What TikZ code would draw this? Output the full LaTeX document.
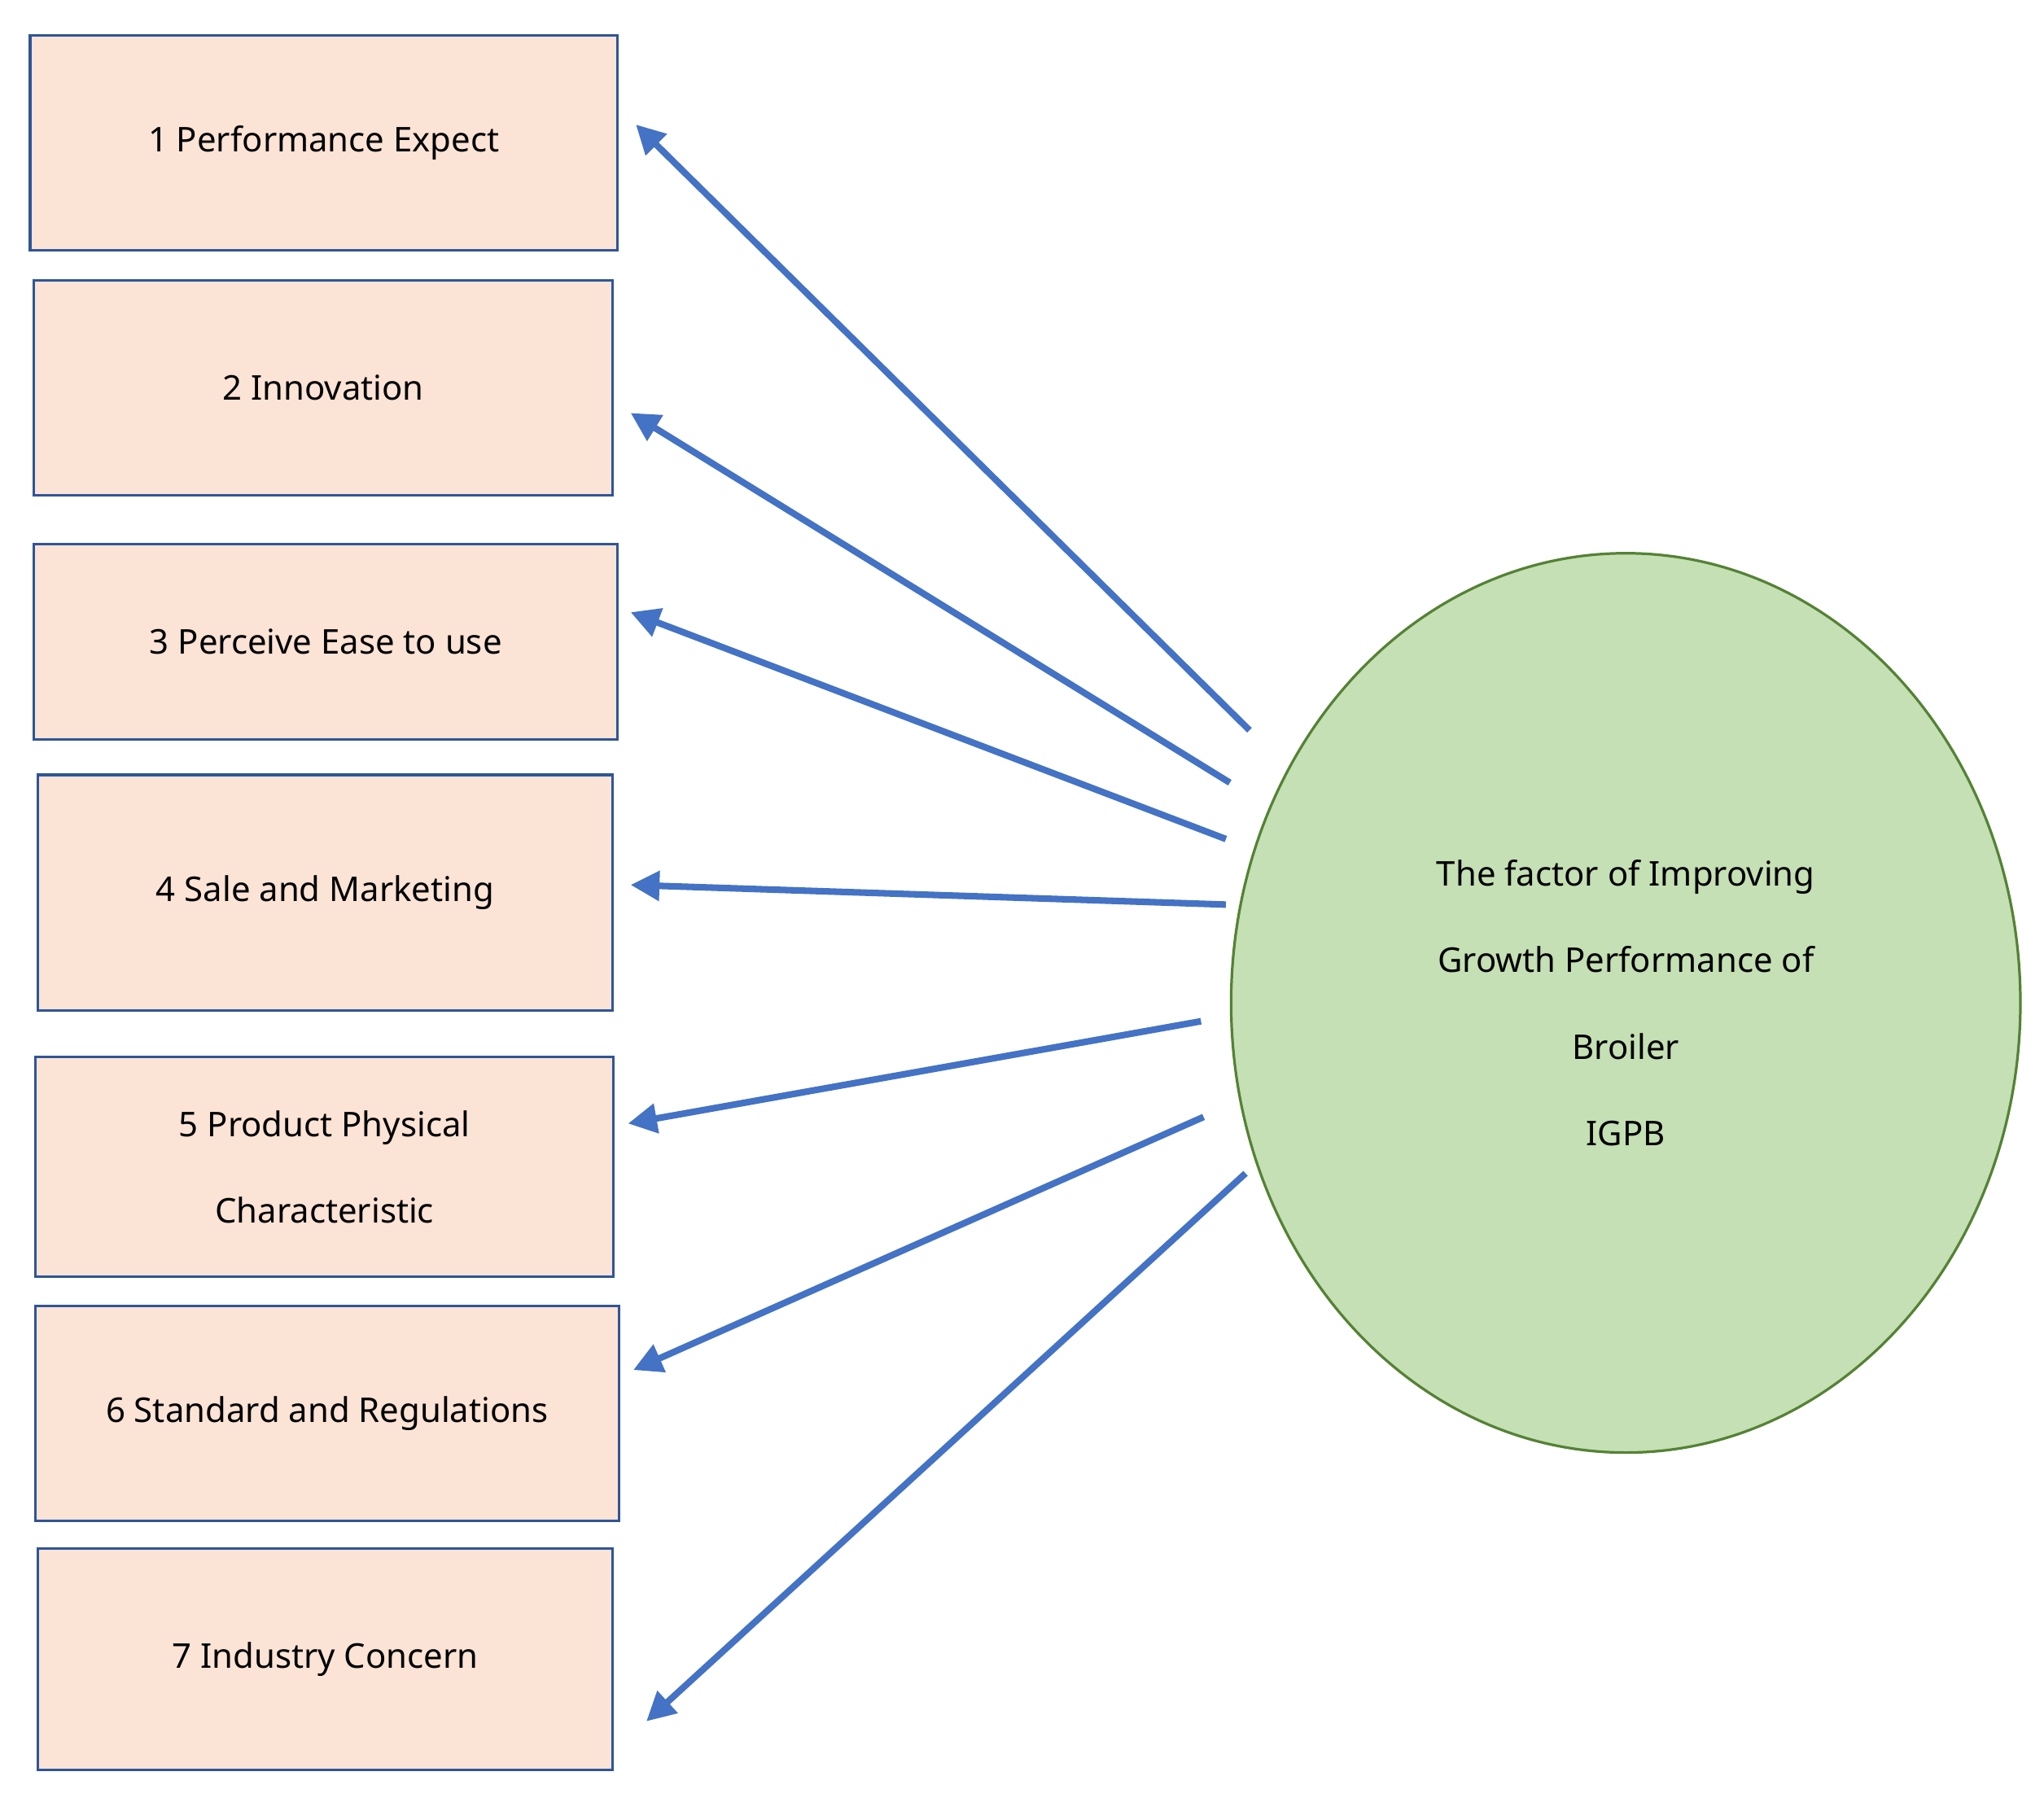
\documentclass[tikz,border=0pt]{standalone}
\usepackage{fontspec}
\setmainfont{Noto Sans}
\usetikzlibrary{arrows.meta,shapes.geometric}
\definecolor{boxfill}{HTML}{FBE3D6}
\definecolor{boxline}{HTML}{2F5597}
\definecolor{ellfill}{HTML}{C5E0B4}
\definecolor{ellline}{HTML}{548235}
\definecolor{arr}{HTML}{4472C4}
\begin{document}
\begin{tikzpicture}[x=1pt,y=-1pt,
  box/.style={draw=boxline,line width=2pt,fill=boxfill,anchor=north west,inner sep=0pt,align=center,font=\fontsize{26}{66}\selectfont},
  link/.style={draw=arr,line width=5pt,-{Triangle[length=22pt,width=22pt]}}]
\useasboundingbox (0,0) rectangle (1559,1371);
\node[box,minimum width=448pt,minimum height=164pt] (b1) at (22,26) {1 Performance Expect};
\node[box,minimum width=441pt,minimum height=164pt] (b2) at (25,213) {2 Innovation};
\node[box,minimum width=445pt,minimum height=149pt] (b3) at (25,414) {3 Perceive Ease to use};
\node[box,minimum width=438pt,minimum height=180pt] (b4) at (28,590) {4 Sale and Marketing};
\node[box,minimum width=441pt,minimum height=168pt] (b5) at (26,805) {5 Product Physical\\Characteristic};
\node[box,minimum width=445pt,minimum height=164pt] (b6) at (26,995) {6 Standard and Regulations};
\node[box,minimum width=438pt,minimum height=169pt] (b7) at (28,1180) {7 Industry Concern};
\node[draw=ellline,line width=2pt,fill=ellfill,ellipse,inner sep=0pt,minimum width=602pt,minimum height=686pt,align=center,font=\fontsize{26}{66}\selectfont] (e) at (1240,765) {The factor of Improving\\Growth Performance of\\Broiler\\IGPB};
\coordinate (s1) at (953,557); \coordinate (t1) at (485,95);
\coordinate (s2) at (938,597); \coordinate (t2) at (481,315);
\coordinate (s3) at (935,640); \coordinate (t3) at (481,467);
\coordinate (s4) at (935,690); \coordinate (t4) at (481,675);
\coordinate (s5) at (916,779); \coordinate (t5) at (479,857);
\coordinate (s6) at (918,852); \coordinate (t6) at (483,1045);
\coordinate (s7) at (950,895); \coordinate (t7) at (493,1313);
\foreach \i in {1,...,7} \draw[link] (s\i) -- (t\i);
\end{tikzpicture}
\end{document}
